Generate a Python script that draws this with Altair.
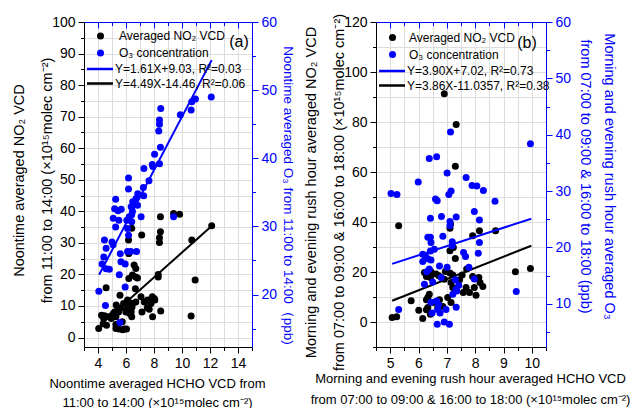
import altair as alt
import pandas as pd

FONT = "Liberation Sans"
BLUE = "#0000ff"
NO2_NAME = "Averaged NO₂ VCD"
O3_NAME = "O₃ concentration"

# ---------------- Panel (a): noontime ----------------
a_no2_hcho = [4.05, 4.37, 4.61, 4.25, 4.41, 4.46, 4.72, 4.95, 5.02, 5.09, 5.19, 5.28, 5.30, 5.42, 5.47,
              5.64, 5.83, 5.28, 5.49, 5.76, 5.90, 6.04, 5.28, 5.73, 4.58, 5.57, 5.99, 6.06, 6.11, 6.27,
              6.37, 6.41, 6.43, 6.20, 6.46, 6.11, 6.70, 6.67, 7.07, 7.31, 7.54, 7.78, 8.02, 7.88, 8.06,
              7.14, 7.66, 7.90, 7.52, 8.48, 8.30, 8.30, 6.20, 6.46, 6.70, 6.82, 6.70, 6.58, 6.20, 6.18,
              6.41, 7.12, 8.46, 8.46, 8.39, 8.39, 9.40, 9.83, 10.65, 10.94, 10.70, 12.12]
a_no2_vcd = [2.9, 4.4, 3.9, 7.1, 6.0, 6.9, 6.6, 6.0, 7.1, 7.6, 8.1, 6.6, 10.3, 9.0, 8.1,
             9.4, 10.8, 2.9, 2.7, 2.5, 2.7, 2.7, 4.1, 5.0, 15.8, 13.4, 8.1, 8.4, 9.2, 7.6,
             8.1, 6.6, 9.7, 11.3, 10.8, 11.9, 11.3, 15.5, 12.9, 11.3, 11.9, 10.8, 12.4, 12.9, 11.9,
             8.1, 9.0, 6.6, 9.4, 8.4, 20.0, 19.2, 18.7, 19.8, 19.2, 18.9, 21.9, 23.0, 26.6, 30.9,
             34.6, 32.5, 38.3, 33.5, 31.6, 30.1, 39.3, 39.1, 6.8, 18.2, 30.9, 35.4]
a_o3_hcho = [12.09, 10.96, 10.70, 10.65, 9.88, 8.48, 8.39, 8.39, 8.34, 8.46, 8.04, 7.88, 8.39, 7.92, 7.28,
             7.64, 6.18, 6.18, 7.24, 6.84, 7.26, 6.72, 6.48, 6.37, 6.82, 6.46, 6.23, 6.41, 6.06, 6.41,
             6.11, 6.18, 7.08, 6.75, 6.11, 6.34, 5.26, 5.19, 5.43, 5.66, 5.09, 5.49, 5.26, 5.00, 4.46,
             4.58, 4.41, 4.29, 4.81, 4.58, 5.59, 5.64, 5.94, 5.52, 5.94, 4.06, 4.53, 5.57, 9.40, 5.08]
a_o3_ppb = [49.0, 48.7, 48.3, 47.1, 46.4, 47.3, 45.6, 45.0, 44.0, 41.6, 40.6, 39.1, 39.2, 38.8, 38.5,
            36.7, 37.1, 35.5, 35.7, 34.8, 34.5, 34.1, 33.6, 32.9, 33.1, 32.2, 31.4, 31.7, 30.9, 30.7,
            29.7, 28.7, 31.4, 26.3, 26.3, 26.3, 34.0, 32.6, 32.3, 32.5, 31.2, 30.9, 29.9, 27.7, 28.0,
            26.8, 25.5, 24.5, 23.7, 23.8, 26.0, 24.8, 24.5, 22.9, 21.1, 20.5, 18.4, 15.9, 31.4, 27.3]
a_fit_o3_x = [4.08, 12.12]
a_fit_o3_y = [22.9, 54.4]
a_fit_no2_x = [5.30, 12.14]
a_fit_no2_y = [8.4, 35.4]
a_equations = ["Y=1.61X+9.03, R²=0.03", "Y=4.49X-14.46, R²=0.06"]

# ---------------- Panel (b): rush hours ----------------
b_no2_hcho = [6.91, 7.33, 7.30, 5.30, 7.11, 7.13, 8.15, 8.72, 7.91, 7.23, 7.11, 7.30, 9.42, 9.95,
              6.21, 6.44, 6.28, 6.42, 6.62, 6.72, 6.91, 7.11, 7.21, 7.54, 7.70, 7.91, 8.13, 8.17, 7.15,
              7.21, 7.68, 7.80, 8.03, 8.27, 7.97, 7.58, 6.38, 6.33, 6.28, 6.51, 6.74, 7.03, 7.15, 6.86,
              6.68, 6.33, 6.28, 6.42, 6.15, 6.01, 5.74, 5.07, 5.23, 7.45, 6.95]
b_no2_vcd = [91.3, 79.0, 62.3, 38.5, 37.5, 39.2, 36.5, 36.5, 34.5, 29.8, 28.5, 25.4, 20.1, 21.4,
             19.8, 20.1, 18.2, 17.8, 19.2, 18.5, 17.1, 19.6, 18.8, 18.8, 21.2, 18.2, 17.8, 15.8, 15.8,
             13.8, 13.8, 11.8, 10.7, 14.2, 13.8, 11.8, 11.1, 9.8, 8.9, 7.8, 8.9, 9.8, 7.8, 6.2,
             5.8, 5.8, 4.9, 3.1, 1.4, 4.7, 8.5, 1.8, 2.1, 16.9, 20.2]
b_o3_hcho = [7.13, 9.95, 6.38, 6.64, 7.01, 5.99, 7.68, 7.89, 8.06, 8.29, 8.70, 5.03, 5.24, 7.07, 7.15,
             6.60, 6.66, 7.97, 6.42, 6.81, 7.33, 7.11, 8.15, 7.11, 6.33, 6.42, 6.44, 6.86, 7.19, 7.19,
             8.15, 8.11, 7.59, 7.66, 6.56, 6.42, 6.15, 6.24, 6.15, 6.33, 6.44, 6.29, 6.38, 6.74, 7.01,
             7.78, 6.80, 6.50, 6.21, 7.30, 7.97, 7.42, 7.33, 7.21, 7.35, 9.45, 6.44, 6.64, 6.71, 6.68,
             6.48, 6.76, 6.97, 7.33, 5.30, 6.66, 6.91, 7.09]
b_o3_ppb = [40.5, 38.4, 35.8, 36.1, 33.2, 31.6, 32.4, 31.0, 30.9, 30.1, 28.2, 29.6, 29.4, 29.4, 30.0,
            28.6, 28.3, 26.4, 25.2, 25.5, 25.4, 24.6, 24.9, 23.9, 21.8, 21.8, 20.9, 22.0, 21.0, 20.3,
            20.9, 19.0, 19.1, 18.4, 19.7, 19.4, 18.8, 18.6, 17.5, 18.0, 17.8, 15.7, 16.2, 16.7, 16.5,
            16.5, 14.7, 13.9, 13.5, 14.3, 14.4, 13.3, 12.6, 11.7, 12.3, 12.2, 10.3, 10.5, 9.8, 9.0,
            8.4, 8.4, 9.0, 9.4, 9.0, 6.4, 6.8, 6.4]
b_fit_o3_x = [5.07, 9.98]
b_fit_o3_y = [17.1, 25.1]
b_fit_no2_x = [5.07, 9.98]
b_fit_no2_y = [8.5, 30.5]
b_equations = ["Y=3.90X+7.02, R²=0.73", "Y=3.86X-11.0357, R²=0.38"]

# axis tick values and labels
a_x_ticks = [3, 4, 5, 6, 7, 8, 9, 10, 11, 12, 13, 14, 15]
a_yl_ticks = list(range(0, 101, 5))
a_yr_ticks = list(range(15, 61, 5))
b_x_ticks = [4.5, 5, 5.5, 6, 6.5, 7, 7.5, 8, 8.5, 9, 9.5, 10, 10.5]
b_yl_ticks = list(range(-10, 121, 10))
b_yr_ticks = list(range(5, 61, 5))


def tsize(test):
    return {"condition": {"test": test, "value": 6}, "value": 3.5}


def lab(test):
    return f"{test} ? format(datum.value, 'd') : ''"


def make_panel(p):
    no2_df = pd.DataFrame({"x": p["no2_x"], "y": p["no2_y"], "s": NO2_NAME})
    o3_df = pd.DataFrame({"x": p["o3_x"], "y": p["o3_y"], "s": O3_NAME})
    fit_o3_df = pd.DataFrame({"x": p["fo3_x"], "y": p["fo3_y"], "e": p["eq"][0]})
    fit_no2_df = pd.DataFrame({"x": p["fno2_x"], "y": p["fno2_y"], "e": p["eq"][1]})
    lab_df = pd.DataFrame({"t": [p["tag"]]})

    xs = alt.Scale(domain=p["xdom"], nice=False, zero=False)
    ysl = alt.Scale(domain=p["yldom"], nice=False, zero=False)
    ysr = alt.Scale(domain=p["yrdom"], nice=False, zero=False)

    common = dict(labelOverlap=False, labelFlush=False, titleFontWeight="normal",
                  titleAlign="center", titleBaseline="middle", labelFontSize=14, labelPadding=3)
    x_bottom = alt.Axis(orient="bottom", values=p["xticks"], labelExpr=lab(p["xt"]),
                        tickSize=tsize(p["xt"]), title=p["xtitle"], titleFontSize=13,
                        titleX=p["xtitle_pos"][0], titleY=p["xtitle_pos"][1],
                        titleLineHeight=p["xtitle_lh"], domainColor="black", tickColor="black",
                        labelColor="black", **common)
    # mirrored frame line along the top, ticks pointing into the plot
    x_top = alt.Axis(orient="bottom", offset=-p["h"], values=p["xticks"], labels=False,
                     tickSize=tsize(p["xt"]), title=None, domainColor=BLUE, tickColor=BLUE)
    y_left = alt.Axis(orient="left", values=p["ylticks"], labelExpr=lab(p["ylt"]),
                      tickSize=tsize(p["ylt"]), title=p["yltitle"], titleFontSize=p["yl_fs"],
                      titleX=p["yltitle_pos"][0], titleY=p["yltitle_pos"][1], titleAngle=270,
                      titleLineHeight=p["yltitle_lh"], domainColor="black", tickColor="black",
                      labelColor="black", titleColor="black", **common)
    y_right = alt.Axis(orient="right", values=p["yrticks"], labelExpr=lab(p["yrt"]),
                       tickSize=tsize(p["yrt"]), title=p["yrtitle"], titleFontSize=p["yr_fs"],
                       titleX=p["yrtitle_pos"][0], titleY=p["yrtitle_pos"][1], titleAngle=90,
                       titleLineHeight=p["yrtitle_lh"], domainColor=BLUE, tickColor=BLUE,
                       labelColor=BLUE, titleColor=BLUE, **common)

    fill_scale = alt.Scale(domain=[NO2_NAME, O3_NAME], range=["black", BLUE])
    stroke_scale = alt.Scale(domain=p["eq"], range=[BLUE, "black"])
    fill_legend = alt.Legend(orient="none", legendX=p["fleg"][0], legendY=p["fleg"][1], title=None,
                             symbolType="circle", symbolSize=49, symbolStrokeWidth=0,
                             labelOffset=p["fleg"][2], rowPadding=5, padding=0, labelFontSize=12,
                             labelLimit=300)
    stroke_legend = alt.Legend(orient="none", legendX=p["sleg"][0], legendY=p["sleg"][1], title=None,
                               symbolType="M-2.6,0H2.6", symbolSize=100, symbolStrokeWidth=2.5,
                               labelOffset=p["sleg"][2], rowPadding=1.5, padding=0,
                               labelFontSize=12, labelLimit=300)

    no2_pts = alt.Chart(no2_df).mark_circle(size=49, opacity=1).encode(
        x=alt.X("x:Q", scale=xs, axis=x_bottom),
        y=alt.Y("y:Q", scale=ysl, axis=y_left),
        fill=alt.Fill("s:N", scale=fill_scale, legend=fill_legend),
    )
    no2_line = alt.Chart(fit_no2_df).mark_line(strokeWidth=2).encode(
        x=alt.X("x:Q", scale=xs, axis=x_bottom),
        y=alt.Y("y:Q", scale=ysl, axis=y_left),
        stroke=alt.Stroke("e:N", scale=stroke_scale, legend=stroke_legend),
    )
    o3_pts = alt.Chart(o3_df).mark_circle(size=49, opacity=1).encode(
        x=alt.X("x:Q", scale=xs, axis=x_top),
        y=alt.Y("y:Q", scale=ysr, axis=y_right),
        fill=alt.Fill("s:N", scale=fill_scale, legend=fill_legend),
    )
    o3_line = alt.Chart(fit_o3_df).mark_line(strokeWidth=2).encode(
        x=alt.X("x:Q", scale=xs, axis=x_top),
        y=alt.Y("y:Q", scale=ysr, axis=y_right),
        stroke=alt.Stroke("e:N", scale=stroke_scale, legend=stroke_legend),
    )
    tag = alt.Chart(lab_df).mark_text(fontSize=16, font=FONT, color="black").encode(
        text="t:N", x=alt.value(p["tag_pos"][0]), y=alt.value(p["tag_pos"][1]))

    left = alt.layer(no2_pts, no2_line)
    right = alt.layer(o3_pts, o3_line)
    return alt.layer(left, right, tag).resolve_scale(y="independent").resolve_axis(
        x="independent").properties(width=p["w"], height=p["h"])


pa = dict(
    no2_x=a_no2_hcho, no2_y=a_no2_vcd, o3_x=a_o3_hcho, o3_y=a_o3_ppb,
    fo3_x=a_fit_o3_x, fo3_y=a_fit_o3_y, fno2_x=a_fit_no2_x, fno2_y=a_fit_no2_y, eq=a_equations,
    tag="(a)", tag_pos=(155, 20), w=168, h=325,
    xdom=[3, 15], yldom=[-3, 100], yrdom=[12.3, 60],
    xticks=a_x_ticks, xt="datum.value % 2 === 0",
    ylticks=a_yl_ticks, ylt="datum.value % 10 === 0",
    yrticks=a_yr_ticks, yrt="datum.value % 10 === 0",
    xtitle=["Noontime  averaged HCHO VCD from", "11:00 to 14:00  (×10¹⁵molec cm⁻²)"],
    xtitle_pos=(73, 36), xtitle_lh=19,
    yltitle=["Noontime  averaged NO₂ VCD", "from 11:00 to 14:00 (×10¹⁵molec cm⁻²)"],
    yltitle_pos=(-64.5, 158), yltitle_lh=28, yl_fs=14.5,
    yrtitle=["Noontime  averaged O₃ from 11:00 to 14:00（ppb)"],
    yrtitle_pos=(35, 173), yrtitle_lh=20, yr_fs=13.5,
    fleg=(10.5, 8, 12.5), sleg=(9.5, 40.5, 8.5),
)
pb = dict(
    no2_x=b_no2_hcho, no2_y=b_no2_vcd, o3_x=b_o3_hcho, o3_y=b_o3_ppb,
    fo3_x=b_fit_o3_x, fo3_y=b_fit_o3_y, fno2_x=b_fit_no2_x, fno2_y=b_fit_no2_y, eq=b_equations,
    tag="(b)", tag_pos=(151, 21), w=170, h=325,
    xdom=[4.5, 10.5], yldom=[-10, 120], yrdom=[2.35, 60],
    xticks=b_x_ticks, xt="datum.value % 1 === 0",
    ylticks=b_yl_ticks, ylt="datum.value % 20 === 0",
    yrticks=b_yr_ticks, yrt="datum.value % 10 === 0",
    xtitle=["Morning and evening rush hour  averaged HCHO VCD",
            "from 07:00 to 09:00 & 16:00 to 18:00 (×10¹⁵molec cm⁻²)"],
    xtitle_pos=(94, 31), xtitle_lh=21,
    yltitle=["Morning and evening rush hour  averaged NO₂ VCD",
             "from 07:00 to 09:00 & 16:00 to 18:00 (×10¹⁵molec cm⁻²)"],
    yltitle_pos=(-64.5, 170), yltitle_lh=28, yl_fs=14.5,
    yrtitle=["Morning and evening rush hour  averaged O₃", "from 07:00 to 09:00 & 16:00 to 18:00 (ppb)"],
    yrtitle_pos=(62, 154), yrtitle_lh=24, yr_fs=14.5,
    fleg=(10.5, 9.5, 10.5), sleg=(9.5, 42.5, 8.5),
)

chart = alt.hconcat(make_panel(pa), make_panel(pb), spacing=124, bounds="flush").resolve_scale(
    x="independent", y="independent", fill="independent", stroke="independent"
).resolve_legend(fill="independent", stroke="independent").properties(
    padding={"left": 11, "top": 12, "right": 5, "bottom": 0}
).configure_view(stroke=None).configure_axis(
    grid=False, labelFont=FONT, titleFont=FONT, titleFontWeight="normal",
    domainWidth=1.5, tickWidth=1.5
).configure_legend(labelFont=FONT, labelColor="black").configure(background="white")

chart.save("out.html", embed_options={"renderer": "svg", "actions": False})
